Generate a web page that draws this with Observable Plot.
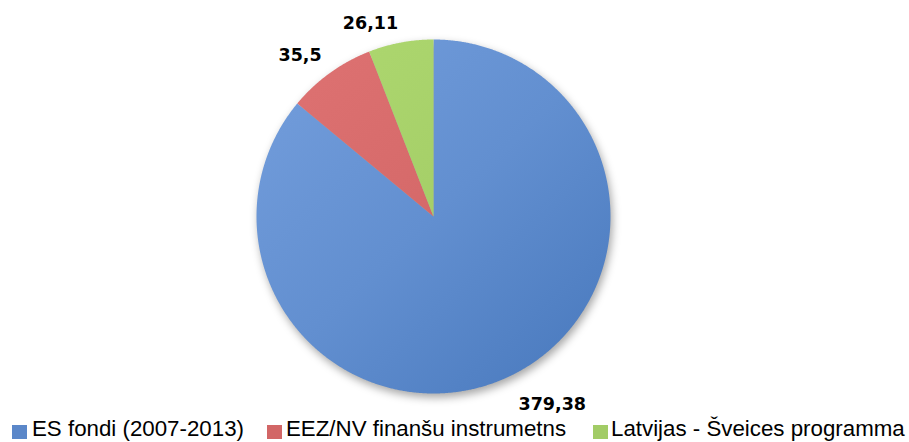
<!DOCTYPE html>
<html>
<head>
<meta charset="utf-8">
<script src="https://cdn.jsdelivr.net/npm/d3@7"></script>
<script src="https://cdn.jsdelivr.net/npm/@observablehq/plot@0.6"></script>
<style>
  html, body { margin: 0; padding: 0; background: #fff; }
  #wrap { width: 909px; height: 442px; position: relative; overflow: hidden; }
  #legend { position: relative; width: 909px; height: 27px; font-family: "Liberation Sans", Arial, sans-serif; font-size: 22.3px; color: #000; }
  .item { position: absolute; top: 0; white-space: nowrap; line-height: 27px; }
  .sw { position: absolute; width: 15px; height: 14px; top: 10px; }
  .lab { position: absolute; top: 0; }
</style>
</head>
<body>
<div id="wrap"></div>
<script>
const categories = ["ES fondi (2007-2013)", "EEZ/NV finanšu instrumetns", "Latvijas - Šveices programma"];
const values = [379.38, 35.5, 26.11];
const colorsLight = ["#6f9ad9", "#dc7070", "#acd66e"];
const colorsDark = ["#4b7bbf", "#c85d5d", "#98c25c"];
const swatchColors = ["#5b87c9", "#d26666", "#a2cc66"];

const rows = categories.map((name, i) => ({name, value: values[i], label: String(values[i]).replace(".", ",")}));
const arcs = d3.pie().sort(null).value(d => d.value)(rows);

// slice outlines in unit coordinates (angle 0 at 12 o'clock, clockwise)
const slicePts = [];
for (const a of arcs) {
  const name = a.data.name;
  slicePts.push({name, x: 0, y: 0});
  const n = Math.max(2, Math.ceil((a.endAngle - a.startAngle) / 0.005));
  for (let k = 0; k <= n; k++) {
    const t = a.startAngle + (a.endAngle - a.startAngle) * k / n;
    slicePts.push({name, x: Math.sin(t), y: Math.cos(t)});
  }
  slicePts.push({name, x: 0, y: 0});
}

// "outside end" labels at the slice mid-angle
const labelPts = arcs.map(a => {
  const m = (a.startAngle + a.endAngle) / 2;
  const top = Math.cos(m) > 0;
  const k = top ? 1.08 : 1.13;
  return {label: a.data.label, x: k * Math.sin(m), y: k * Math.cos(m), left: Math.sin(m) < 0, top};
});

const cx = 433, cy = 216, r = 177;
const labelStyle = {x: "x", y: "y", text: "label", fontSize: 17.5, fontWeight: "bold", fill: "#000", fontFamily: "DejaVu Sans"};
const plot = Plot.plot({
  width: 909,
  height: 415,
  margin: 0,
  style: {fontFamily: "DejaVu Sans, sans-serif", background: "#fff", overflow: "visible"},
  x: {domain: [-1, 1], range: [cx - r, cx + r], axis: null},
  y: {domain: [-1, 1], range: [cy + r, cy - r], axis: null},
  color: {domain: categories, range: ["url(#g0)", "url(#g1)", "url(#g2)"]},
  marks: [
    Plot.line(slicePts, {x: "x", y: "y", z: "name", fill: "name", stroke: "none", curve: "linear", className: "pie"}),
    Plot.text(labelPts.filter(d => d.left && d.top), {...labelStyle, textAnchor: "end", lineAnchor: "bottom"}),
    Plot.text(labelPts.filter(d => !d.left && d.top), {...labelStyle, textAnchor: "start", lineAnchor: "bottom"}),
    Plot.text(labelPts.filter(d => d.left && !d.top), {...labelStyle, textAnchor: "end", lineAnchor: "top"}),
    Plot.text(labelPts.filter(d => !d.left && !d.top), {...labelStyle, textAnchor: "start", lineAnchor: "top"})
  ]
});

// gradients for the slightly shaded slices
const sx = plot.scale("x"), sy = plot.scale("y");
const defs = d3.select(plot).insert("defs", ":first-child");
colorsLight.forEach((c, i) => {
  const g = defs.append("linearGradient").attr("id", "g" + i).attr("gradientUnits", "userSpaceOnUse")
    .attr("x1", sx.apply(-0.7)).attr("y1", sy.apply(0.7)).attr("x2", sx.apply(0.8)).attr("y2", sy.apply(-0.9));
  g.append("stop").attr("offset", "0").attr("stop-color", c);
  g.append("stop").attr("offset", "0.45").attr("stop-color", d3.interpolateRgb(c, colorsDark[i])(0.35));
  g.append("stop").attr("offset", "1").attr("stop-color", colorsDark[i]);
});
d3.select(plot).select(".pie").style("filter", "drop-shadow(2px 4px 4px rgba(0,0,0,0.35))");

const wrap = document.getElementById("wrap");
wrap.appendChild(plot);

const legend = document.createElement("div");
legend.id = "legend";
const itemLeft = [12, 267, 593];
const textOffset = [20, 19, 18];
categories.forEach((c, i) => {
  const it = document.createElement("div");
  it.className = "item";
  it.style.left = itemLeft[i] + "px";
  const sw = document.createElement("span");
  sw.className = "sw";
  sw.style.left = "0px";
  sw.style.background = swatchColors[i];
  const lb = document.createElement("span");
  lb.className = "lab";
  lb.style.left = textOffset[i] + "px";
  lb.textContent = c;
  it.appendChild(sw);
  it.appendChild(lb);
  legend.appendChild(it);
});
wrap.appendChild(legend);
</script>
</body>
</html>
